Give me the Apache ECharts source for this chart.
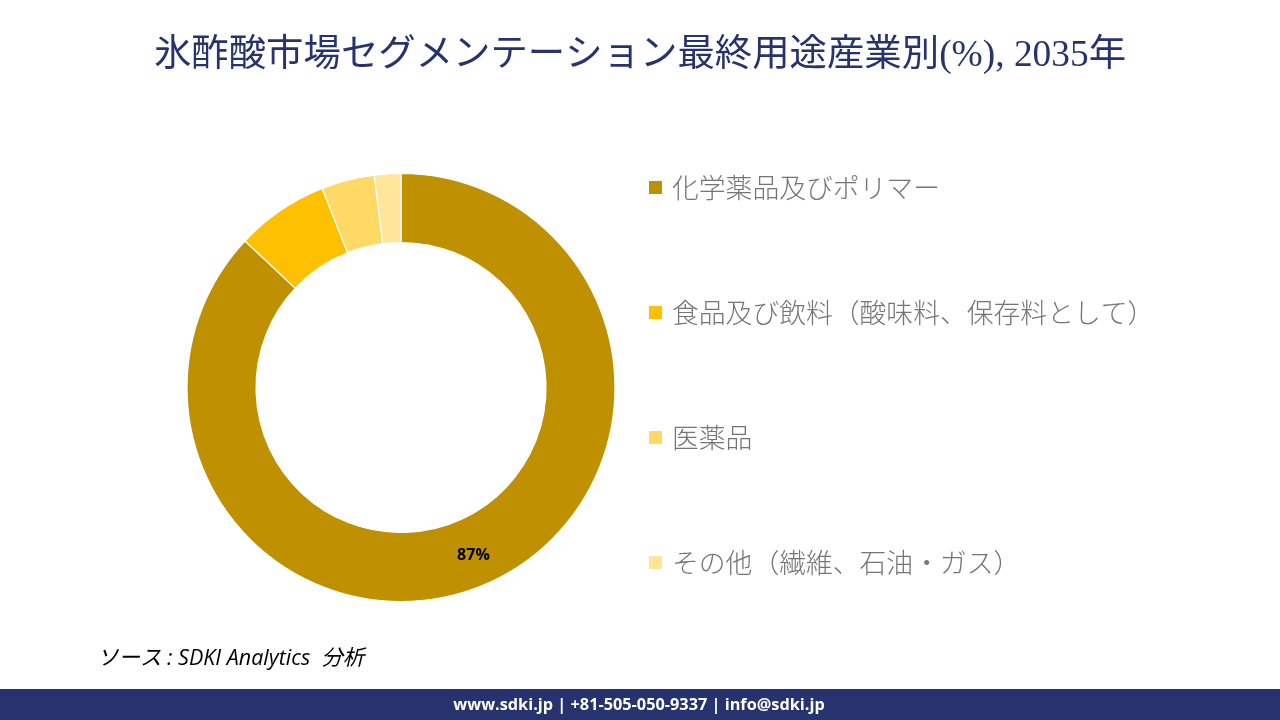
<!DOCTYPE html>
<html>
<head>
<meta charset="utf-8">
<style>
html, body { margin: 0; padding: 0; background: #fff; }
#main { width: 1280px; height: 720px; }
</style>
<script src="https://cdn.jsdelivr.net/npm/echarts@6/dist/echarts.min.js"></script>
</head>
<body>
<div id="main"></div>
<script>
var categories = ['化学薬品及びポリマー', '食品及び飲料（酸味料、保存料として）', '医薬品', 'その他（繊維、石油・ガス）'];
var shares = [87, 7, 4, 2];
var sliceColors = ['#bf9000', '#ffc000', '#ffd966', '#ffe599'];
var shownLabels = ['87%'];

var cjk = '"Noto Sans CJK JP"';
var chart = echarts.init(document.getElementById('main'));

chart.setOption({
	backgroundColor: '#ffffff',
	animation: false,
	color: sliceColors,
	title: [{
		text: '氷酢酸市場セグメンテーション最終用途産業別(%), 2035年',
		left: 635,
		textAlign: 'center',
		top: 32,
		textStyle: { fontFamily: '"Liberation Serif", ' + cjk, fontSize: 37.4, fontWeight: 'normal', color: '#26336f' }
	}, {
		text: 'ソース : SDKI Analytics  分析',
		left: 92,
		top: 643,
		textStyle: { fontFamily: '"Open Sans", ' + cjk, fontSize: 21.5, fontStyle: 'italic', fontWeight: 'normal', color: '#000000' }
	}, {
		text: 'www.sdki.jp | +81-505-050-9337 | info@sdki.jp',
		left: 634,
		textAlign: 'center',
		top: 692,
		z: 10,
		textStyle: { fontFamily: '"Open Sans"', fontSize: 16.3, fontWeight: 'bold', color: '#ffffff' }
	}],
	graphic: [{
		type: 'rect',
		shape: { x: 0, y: 689, width: 1280, height: 31 },
		style: { fill: '#26336f' },
		z: 0
	}],
	legend: {
		orient: 'vertical',
		left: 642,
		top: 159,
		icon: 'rect',
		itemWidth: 15,
		itemHeight: 15,
		itemGap: 78,
		selectedMode: false,
		data: categories,
		textStyle: { fontFamily: cjk, fontSize: 26.8, fontWeight: 300, color: '#757575', padding: [0, 0, 9, 4], lineHeight: 38 }
	},
	series: [{
		type: 'pie',
		center: [401, 387.5],
		radius: [145, 214],
		startAngle: 90,
		clockwise: true,
		itemStyle: { borderColor: '#ffffff', borderWidth: 1.2 },
		label: {
			position: 'inside',
			fontFamily: '"Open Sans"',
			fontSize: 16,
			fontWeight: 'bold',
			color: '#000000',
			formatter: function (p) {
				return shownLabels[p.dataIndex] || '';
			}
		},
		labelLine: { show: false },
		data: categories.map(function (name, i) {
			return { name: name, value: shares[i] };
		})
	}]
});
</script>
</body>
</html>
